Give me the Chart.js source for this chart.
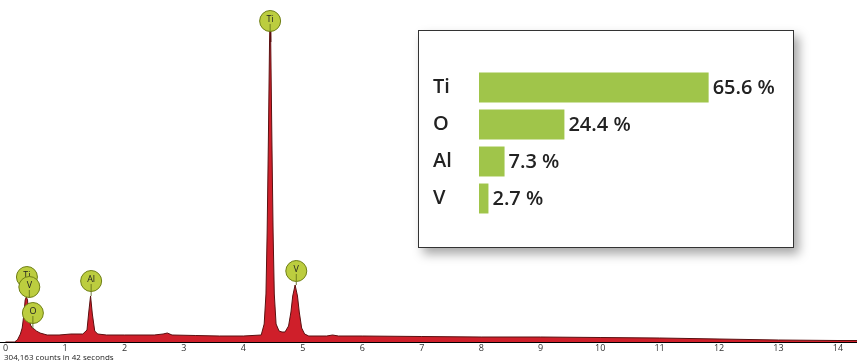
<!DOCTYPE html>
<html>
<head>
<meta charset="utf-8">
<script src="https://cdn.jsdelivr.net/npm/chart.js@4"></script>
<style>
  body { margin: 0; background: #fff; }
  #wrap { position: relative; width: 857px; height: 363px; overflow: hidden; }
  #spectrum { position: absolute; left: 0; top: 0; }
  #caption { position: absolute; left: 4px; top: 351px; font: 8px "Open Sans", sans-serif; color: #222; white-space: nowrap; }
  #inset { position: absolute; left: 418px; top: 30px; width: 374px; height: 216px; border: 1px solid #333;
           background: #fff; box-shadow: 5px 6px 10px rgba(0,0,0,0.35); }
  #bars { position: absolute; left: 0; top: 0; }
</style>
</head>
<body>
<div id="wrap">
  <canvas id="spectrum" width="857" height="363"></canvas>
  <div id="caption">304,163 counts in 42 seconds</div>
  <div id="inset"><canvas id="bars" width="374" height="216"></canvas></div>
</div>
<script>
// spectrum (keV / counts in plot units)
const specEnergy = [0.0, 0.15, 0.2, 0.25, 0.28, 0.31, 0.33, 0.35, 0.37, 0.39, 0.42, 0.45, 0.48, 0.52, 0.58, 0.7, 0.9, 1.1, 1.3,
  1.37, 1.40, 1.43, 1.46, 1.50, 1.55, 1.7, 2.0, 2.5, 2.65, 2.72, 2.8, 3.2, 3.6, 4.0, 4.3,
  4.35, 4.38, 4.40, 4.42, 4.44, 4.45, 4.46, 4.48, 4.50, 4.52, 4.55, 4.60, 4.65,
  4.70, 4.76, 4.80, 4.83, 4.87, 4.91, 4.94, 4.98, 5.03, 5.1, 5.4, 5.5, 5.6, 6.0, 7.0, 8.0, 9.0, 10.0, 11.0, 12.0, 13.0, 14.0, 14.32];
const specCounts = [0, 0, 2, 8, 14, 28, 42, 45, 42, 28, 17, 14, 13, 11, 9, 7, 7, 8, 8,
  12, 30, 46, 28, 11, 8, 7, 7, 7, 8, 9, 7, 6.5, 6, 6, 7,
  18, 48, 110, 200, 300, 328, 300, 200, 110, 48, 18, 11, 10,
  10, 16, 30, 46, 57, 46, 30, 14, 8, 6, 6, 7, 6, 6, 5.5, 5, 5, 4.5, 4, 3, 2, 1.5, 1.5];
const tickValues = [0, 1, 2, 3, 4, 5, 6, 7, 8, 9, 10, 11, 12, 13, 14];

// peak markers
const markerLabels = ['Ti', 'V', 'O', 'Al', 'Ti', 'V'];
const markerEnergy = [0.36, 0.40, 0.46, 1.44, 4.45, 4.89];
const markerHeight = [65, 55, 29, 61, 321, 71];
const markerPeak = [45, 45, 14, 46, 321, 57];

// composition inset
const elements = ['Ti', 'O', 'Al', 'V'];
const percents = [65.6, 24.4, 7.3, 2.7];

const markerPlugin = {
  id: 'markers',
  afterDatasetsDraw(chart) {
    const ctx = chart.ctx;
    const xs = chart.scales.x, ys = chart.scales.y;
    const r = 10.5;
    ctx.save();
    markerLabels.forEach((lab, i) => {
      const x = xs.getPixelForValue(markerEnergy[i]);
      const y = ys.getPixelForValue(markerHeight[i]);
      const yp = ys.getPixelForValue(markerPeak[i]);
      ctx.strokeStyle = '#4d5a10';
      ctx.lineWidth = 0.8;
      if (yp > y + r) {
        ctx.beginPath(); ctx.moveTo(x, y + r); ctx.lineTo(x, yp); ctx.stroke();
      }
      ctx.beginPath();
      ctx.arc(x, y, r, 0, Math.PI * 2);
      ctx.fillStyle = '#bccd3f';
      ctx.fill();
      ctx.lineWidth = 1;
      ctx.strokeStyle = '#6f7f15';
      ctx.stroke();
      ctx.beginPath(); ctx.moveTo(x, y + 3); ctx.lineTo(x, y + r); ctx.lineWidth = 0.7; ctx.strokeStyle = '#4d5a10'; ctx.stroke();
      ctx.fillStyle = '#222';
      ctx.font = '9px "Open Sans", sans-serif';
      ctx.textAlign = 'center';
      ctx.textBaseline = 'middle';
      ctx.fillText(lab, x, y - 2);
    });
    ctx.restore();
  }
};

new Chart(document.getElementById('spectrum'), {
  type: 'line',
  data: {
    datasets: [{
      data: specEnergy.map((e, i) => ({ x: e, y: specCounts[i] })),
      borderColor: '#5a1010',
      borderWidth: 1,
      backgroundColor: '#cf1f2a',
      fill: 'origin',
      pointRadius: 0,
      tension: 0
    }]
  },
  options: {
    responsive: false,
    animation: false,
    devicePixelRatio: 1,
    layout: { padding: 0 },
    plugins: { legend: { display: false }, tooltip: { enabled: false } },
    scales: {
      x: {
        type: 'linear',
        min: -0.093,
        max: 14.32,
        afterBuildTicks: (scale) => { scale.ticks = tickValues.map(v => ({ value: v })); },
        afterFit: (scale) => { scale.height = 21; },
        grid: { display: false, drawTicks: false },
        border: { display: true, color: '#000', width: 1 },
        ticks: { font: { family: 'Open Sans', size: 9 }, color: '#333', padding: 1, maxRotation: 0, autoSkip: false }
      },
      y: { display: false, min: 0, max: 342 }
    }
  },
  plugins: [markerPlugin]
});

const valueLabels = {
  id: 'valueLabels',
  afterDatasetsDraw(chart) {
    const ctx = chart.ctx;
    const meta = chart.getDatasetMeta(0);
    ctx.save();
    ctx.fillStyle = '#222';
    ctx.font = '600 20px "Open Sans", sans-serif';
    ctx.textAlign = 'left';
    ctx.textBaseline = 'middle';
    meta.data.forEach((bar, i) => {
      ctx.fillText(percents[i].toFixed(1) + ' %', bar.x + 4, bar.y + 1);
    });
    ctx.restore();
  }
};

new Chart(document.getElementById('bars'), {
  type: 'bar',
  data: {
    labels: elements,
    datasets: [{
      data: percents,
      backgroundColor: '#a0c54a',
      barPercentage: 0.9,
      categoryPercentage: 0.9
    }]
  },
  options: {
    indexAxis: 'y',
    responsive: false,
    animation: false,
    devicePixelRatio: 1,
    layout: { padding: { left: 14, right: 0, top: 38, bottom: 30 } },
    plugins: { legend: { display: false }, tooltip: { enabled: false } },
    scales: {
      x: { display: false, min: 0, max: 89.7 },
      y: {
        afterFit: (scale) => { scale.width = 46; },
        grid: { display: false, drawTicks: false },
        border: { display: false },
        ticks: { crossAlign: 'far', padding: 0, font: { family: 'Open Sans', size: 20, weight: '600' }, color: '#222' }
      }
    }
  },
  plugins: [valueLabels]
});
</script>
</body>
</html>
